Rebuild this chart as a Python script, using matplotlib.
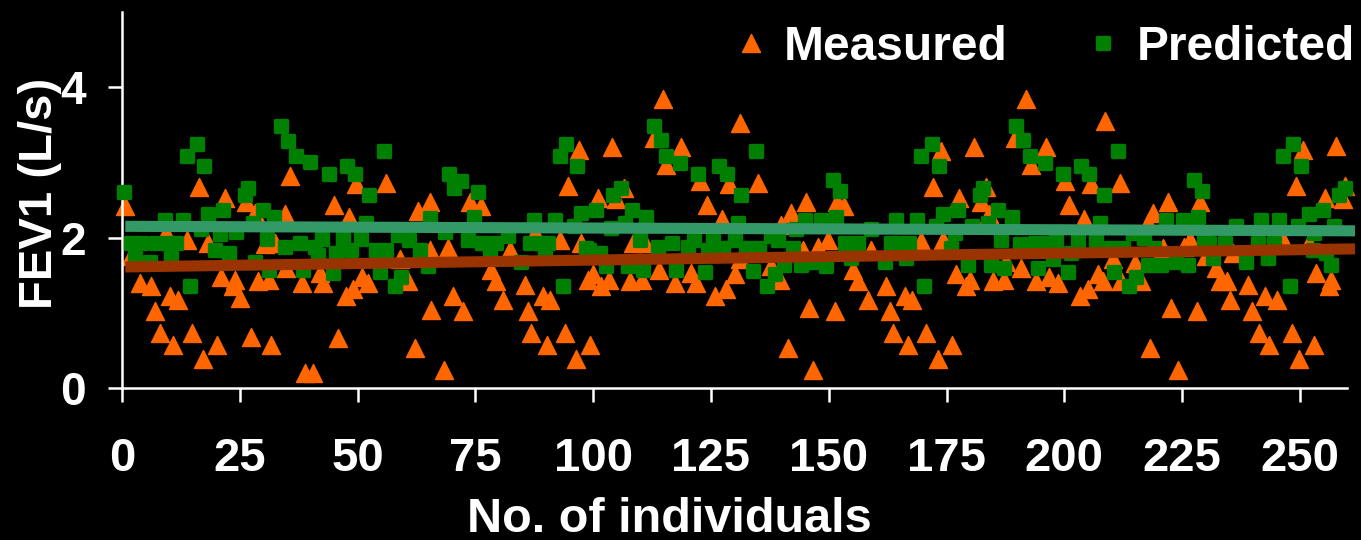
import matplotlib
matplotlib.use("Agg")
import matplotlib.pyplot as plt
from matplotlib.markers import MarkerStyle
import numpy as np

# (individual no., FEV1 in L/s)
measured = [
    (0.7, 2.42), (2.0, 1.75), (3.8, 1.40), (6.2, 1.35), (7.1, 1.02), (8.0, 0.73), (9.4, 2.06),
    (10.1, 1.22), (10.8, 0.57), (11.8, 1.17), (13.7, 1.97), (14.9, 0.73), (16.3, 2.67), (17.2, 0.38),
    (18.3, 1.93), (20.2, 0.57), (21.1, 1.48), (21.8, 2.53), (23.6, 1.35), (23.9, 1.44), (25.0, 1.20),
    (26.4, 2.48), (27.3, 0.68), (28.2, 2.33), (28.9, 1.42), (30.3, 1.91), (31.3, 1.44), (31.7, 0.57),
    (32.4, 1.93), (34.5, 2.31), (34.9, 1.60), (35.7, 2.82), (38.1, 1.40), (38.8, 0.20), (40.5, 0.20),
    (42.0, 1.53), (42.7, 1.40), (45.1, 2.44), (45.8, 0.66), (47.5, 1.22), (48.2, 2.28), (49.0, 1.31),
    (49.7, 2.71), (51.0, 1.48), (52.2, 1.40), (56.0, 2.73), (59.0, 1.71), (60.7, 1.42), (62.1, 0.53),
    (62.8, 2.35), (65.3, 2.48), (65.3, 1.84), (65.6, 1.04), (68.3, 0.24), (69.2, 1.86), (70.2, 1.22),
    (72.4, 1.02), (73.8, 2.48), (76.3, 2.42), (78.4, 1.57), (79.4, 1.42), (80.9, 1.17), (82.3, 1.84),
    (85.5, 1.37), (86.2, 1.02), (86.9, 0.73), (87.6, 2.06), (89.3, 1.22), (90.1, 0.57), (90.8, 1.17),
    (92.9, 1.97), (94.0, 0.73), (94.7, 2.68), (96.3, 0.38), (97.1, 3.17), (97.5, 1.93), (98.8, 1.44),
    (99.4, 0.57), (100.0, 1.51), (101.0, 2.53), (101.7, 1.35), (103.3, 1.44), (104.1, 3.20), (104.9, 2.51),
    (106.5, 2.66), (107.9, 1.42), (108.4, 1.93), (110.4, 1.44), (110.9, 1.93), (113.0, 3.32), (114.0, 1.57),
    (114.8, 3.84), (115.5, 2.97), (117.3, 1.40), (118.7, 3.20), (120.8, 1.53), (121.9, 1.40), (122.6, 2.75),
    (124.1, 2.43), (125.8, 1.22), (127.4, 2.25), (128.3, 1.31), (128.8, 2.71), (130.2, 1.51), (131.1, 3.53),
    (131.1, 1.71), (135.0, 2.72), (137.8, 1.62), (139.6, 1.44), (139.8, 2.17), (141.3, 0.53), (141.9, 2.33),
    (144.5, 1.84), (145.2, 2.47), (145.9, 1.06), (146.6, 0.24), (147.7, 1.88), (149.8, 1.97), (151.4, 1.02),
    (151.8, 2.48), (153.2, 2.42), (155.1, 1.57), (156.2, 1.42), (158.3, 1.17), (159.0, 1.84), (162.2, 1.35),
    (162.9, 1.02), (163.6, 0.73), (166.1, 1.22), (166.8, 0.57), (167.7, 1.17), (169.6, 1.95), (170.7, 0.73),
    (172.2, 2.67), (173.1, 0.38), (173.9, 3.15), (174.2, 1.97), (176.2, 0.57), (177.0, 1.51), (177.7, 2.53),
    (179.2, 1.35), (180.0, 1.44), (180.9, 3.20), (182.3, 2.48), (183.4, 2.67), (184.1, 2.31), (184.8, 1.42),
    (187.3, 1.44), (187.7, 1.68), (189.6, 3.33), (190.8, 1.60), (191.8, 3.84), (193.0, 2.97), (194.0, 1.42),
    (196.1, 3.20), (196.8, 1.48), (198.6, 1.40), (200.2, 2.75), (200.9, 2.43), (203.4, 1.22), (204.1, 2.25),
    (205.0, 1.31), (205.6, 2.71), (207.1, 1.51), (208.2, 1.42), (208.7, 3.55), (210.3, 1.71), (211.9, 2.72),
    (212.1, 1.42), (214.9, 1.66), (216.3, 1.42), (217.7, 2.20), (218.1, 0.53), (218.8, 2.33), (220.9, 1.86),
    (222.0, 2.48), (222.7, 1.06), (224.2, 0.24), (225.5, 1.88), (226.6, 1.97), (228.2, 1.02), (228.7, 2.48),
    (230.1, 1.75), (232.1, 1.60), (233.0, 1.42), (234.5, 1.42), (235.1, 1.17), (235.8, 1.80), (239.0, 1.37),
    (239.9, 1.02), (241.3, 0.73), (242.7, 1.22), (243.5, 0.57), (245.1, 1.17), (246.4, 1.97), (248.4, 0.73),
    (249.1, 2.68), (249.9, 0.38), (250.6, 3.17), (252.0, 1.93), (252.9, 0.57), (253.5, 1.53), (255.4, 2.53),
    (256.1, 1.35), (256.6, 1.44), (257.6, 3.22), (259.1, 2.51), (259.5, 2.68),
]

predicted = [
    (0.4, 2.60), (2.0, 1.93), (2.7, 1.73), (4.1, 1.93), (5.9, 1.68), (7.3, 1.93), (9.1, 2.24),
    (9.8, 1.93), (10.5, 1.73), (11.5, 1.93), (12.9, 2.24), (13.7, 3.09), (14.4, 1.35), (16.0, 3.24),
    (16.8, 2.11), (17.5, 2.95), (18.2, 2.32), (19.8, 1.83), (20.7, 2.05), (21.4, 2.37), (22.8, 1.79),
    (24.3, 2.08), (26.0, 2.56), (26.7, 2.66), (27.8, 2.20), (28.2, 1.68), (29.9, 2.37), (30.8, 1.98),
    (31.3, 1.57), (32.3, 2.28), (33.8, 3.48), (34.5, 1.88), (35.2, 3.29), (36.9, 3.09), (37.7, 1.93),
    (38.4, 1.57), (40.0, 3.00), (40.9, 1.88), (41.6, 1.77), (42.5, 1.98), (43.9, 2.85), (44.8, 1.53),
    (45.5, 1.80), (46.9, 1.98), (47.8, 2.95), (48.7, 1.84), (49.4, 2.85), (50.8, 1.98), (51.7, 2.19),
    (52.4, 2.56), (54.0, 1.83), (54.7, 1.54), (55.6, 3.15), (56.1, 1.83), (57.9, 1.35), (58.6, 2.04),
    (59.3, 1.48), (60.9, 1.97), (63.2, 1.83), (65.0, 1.62), (65.3, 2.26), (68.5, 2.08), (69.5, 2.85),
    (70.5, 2.66), (72.0, 2.75), (73.4, 1.97), (74.8, 2.28), (75.6, 2.61), (76.4, 1.93), (78.0, 1.77),
    (79.4, 1.93), (82.0, 2.02), (84.7, 1.68), (86.5, 1.93), (87.4, 2.24), (89.0, 1.93), (89.7, 1.75),
    (90.4, 1.93), (92.0, 2.24), (92.9, 3.09), (93.6, 1.35), (94.3, 3.24), (96.0, 2.15), (96.6, 2.95),
    (97.5, 2.33), (98.5, 1.86), (99.2, 1.84), (100.7, 2.37), (101.4, 1.80), (102.8, 1.62), (103.8, 2.13),
    (104.3, 2.57), (106.0, 2.66), (106.7, 2.20), (107.4, 1.62), (108.3, 2.37), (109.9, 1.97), (110.6, 1.57),
    (111.3, 2.28), (113.0, 3.48), (113.7, 1.88), (114.5, 3.30), (115.4, 3.09), (116.8, 1.93), (117.5, 1.57),
    (118.4, 2.99), (120.1, 1.88), (121.5, 1.97), (122.2, 2.85), (123.7, 1.54), (124.4, 1.84), (125.4, 1.97),
    (126.8, 2.95), (127.5, 1.86), (128.4, 2.85), (130.0, 1.97), (130.7, 2.20), (131.4, 2.57), (132.5, 1.86),
    (133.9, 1.55), (134.6, 3.15), (135.3, 1.86), (137.0, 1.35), (137.8, 2.02), (138.5, 1.51), (139.2, 1.97),
    (140.6, 1.64), (142.4, 1.86), (143.1, 2.11), (144.2, 1.64), (144.9, 2.24), (146.3, 1.68), (148.4, 2.24),
    (149.5, 1.62), (150.9, 2.76), (151.6, 2.28), (152.3, 2.62), (153.4, 1.93), (154.8, 1.73), (156.2, 1.93),
    (159.0, 2.11), (161.9, 1.68), (163.3, 1.93), (164.3, 2.24), (165.0, 1.93), (166.4, 1.73), (167.1, 1.93),
    (168.7, 2.24), (169.6, 3.09), (170.3, 1.35), (172.0, 3.24), (172.7, 2.15), (173.5, 2.95), (174.2, 2.32),
    (176.0, 1.86), (176.7, 2.06), (177.4, 2.37), (179.5, 1.64), (180.4, 2.15), (182.0, 2.56), (182.7, 2.66),
    (183.8, 2.20), (184.5, 1.64), (185.9, 2.37), (186.6, 1.97), (187.3, 1.60), (188.9, 2.28), (189.8, 3.48),
    (190.5, 1.91), (191.2, 3.30), (192.8, 3.09), (193.7, 1.93), (194.4, 1.60), (195.9, 2.99), (196.5, 1.93),
    (197.6, 1.71), (198.3, 1.97), (199.7, 2.85), (200.7, 1.54), (201.5, 1.80), (202.9, 1.97), (203.6, 2.95),
    (205.3, 2.85), (206.8, 1.97), (207.5, 2.20), (208.4, 2.56), (209.9, 1.86), (210.6, 1.54), (211.4, 3.15),
    (212.4, 1.86), (213.8, 1.35), (214.5, 2.06), (215.3, 1.48), (217.0, 1.99), (217.7, 1.64), (219.1, 1.86),
    (220.5, 1.64), (221.6, 2.24), (223.7, 1.68), (225.2, 2.24), (226.2, 1.64), (227.6, 2.76), (228.3, 2.28),
    (229.2, 2.62), (229.7, 1.97), (230.8, 1.93), (231.5, 1.73), (234.0, 1.93), (236.5, 2.15), (238.6, 1.68),
    (241.1, 1.93), (241.8, 2.24), (243.2, 1.73), (244.6, 1.93), (245.5, 2.24), (246.4, 3.09), (247.9, 1.35),
    (248.6, 3.24), (249.6, 2.15), (250.3, 2.95), (251.9, 2.32), (252.8, 1.84), (253.1, 2.06), (254.9, 2.37),
    (255.6, 1.80), (256.6, 1.64), (257.3, 2.15), (258.4, 2.56), (259.5, 2.66),
]

# linear trend lines (end points)
trend_x = [0.7, 261.7]
measured_trend = [1.61, 1.85]
predicted_trend = [2.15, 2.09]

x_ticks = [0, 25, 50, 75, 100, 125, 150, 175, 200, 225, 250]
y_ticks = [0, 2, 4]


def main():
    font = ["Liberation Sans", "DejaVu Sans"]
    plt.rcParams["font.family"] = font
    plt.rcParams["font.weight"] = "bold"

    W, H = 1361, 540
    fig = plt.figure(figsize=(W / 100, H / 100), dpi=100, facecolor="black")
    ax = fig.add_axes([122 / W, 1 - 388 / H, (1347 - 122) / W, (388 - 12) / H])
    ax.set_facecolor("black")

    mx, my = np.array(measured).T
    px, py = np.array(predicted).T

    tri = MarkerStyle("^", joinstyle="round")
    sq = MarkerStyle("s", joinstyle="round")
    ax.plot(mx, my, linestyle="none", marker=tri, markersize=12.5,
            markerfacecolor="#ff6600", markeredgecolor="#ff6600", markeredgewidth=1.0,
            label="Measured", clip_on=False, zorder=2)
    ax.plot(px, py, linestyle="none", marker=sq, markersize=9,
            markerfacecolor="#008000", markeredgecolor="#008000", markeredgewidth=2.4,
            label="Predicted", clip_on=False, zorder=3)

    ax.plot(trend_x, predicted_trend, color="#339966", linewidth=8,
            solid_capstyle="butt", clip_on=False, zorder=4)
    ax.plot(trend_x, measured_trend, color="#993300", linewidth=8,
            solid_capstyle="butt", clip_on=False, zorder=4)

    ax.set_xlim(0, 260)
    ax.set_ylim(0, 5)
    ax.set_xticks(x_ticks)
    ax.set_yticks(y_ticks)

    for side in ["top", "right"]:
        ax.spines[side].set_visible(False)
    for side in ["left", "bottom"]:
        ax.spines[side].set_color("white")
        ax.spines[side].set_linewidth(1.8)

    ax.tick_params(axis="both", colors="white", direction="out", length=10, width=1.8)
    ax.tick_params(axis="x", labelsize=34, pad=25)
    ax.tick_params(axis="y", labelsize=33, pad=16)

    fig.text(669 / W, 1 - 532 / H, "No. of individuals", color="white", fontsize=35,
             fontweight="bold", ha="center", va="baseline")
    fig.text(40 / W, 1 - 193 / H, "FEV1 (L/s)", color="white", fontsize=34,
             fontweight="bold", ha="center", va="center", rotation=90)

    leg = ax.legend(loc="center right", bbox_to_anchor=(1355 / W, 1 - 47 / H),
                    bbox_transform=fig.transFigure, ncol=2, frameon=False,
                    fontsize=34.5, numpoints=1, handlelength=0.5, handletextpad=0.45,
                    columnspacing=1.74, borderpad=0, borderaxespad=0)
    for t in leg.get_texts():
        t.set_color("white")

    fig.savefig("out.png", dpi=100, facecolor="black")
#end of main()


if __name__ == "__main__":
    main()
